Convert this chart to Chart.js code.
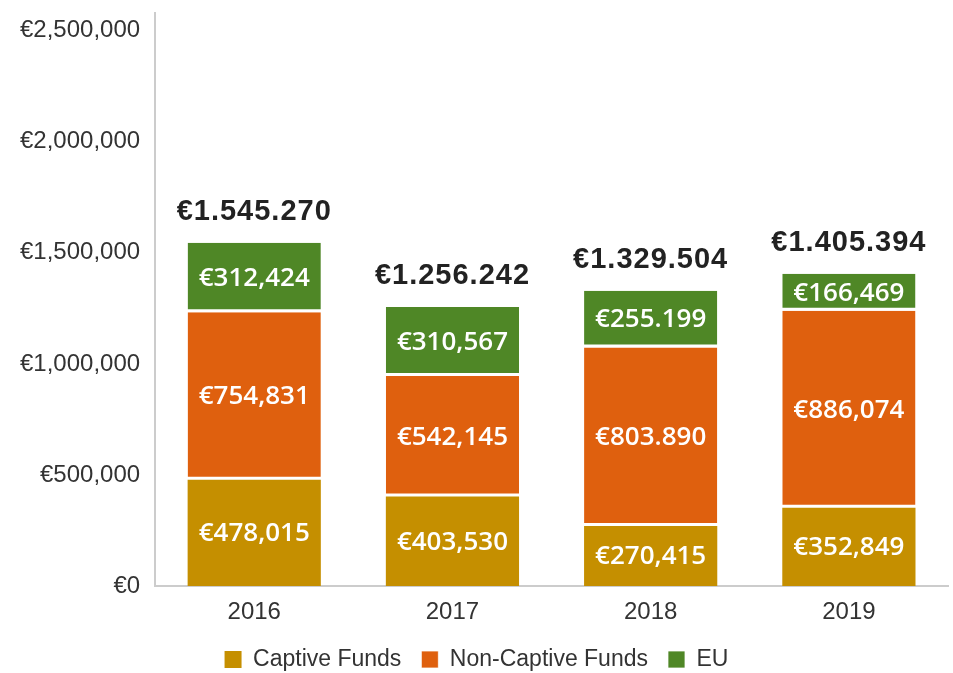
<!DOCTYPE html>
<html>
<head>
<meta charset="utf-8">
<script src="https://cdn.jsdelivr.net/npm/chart.js@4/dist/chart.umd.min.js"></script>
<style>
  html, body { margin: 0; padding: 0; background: #fff; }
  #wrap { width: 953px; height: 673px; }
</style>
</head>
<body>
<div id="wrap"><canvas id="myChart"></canvas></div>
<script>
  // data
  const years = ['2016', '2017', '2018', '2019'];

  const captiveFunds = [478015, 403530, 270415, 352849];
  const nonCaptiveFunds = [754831, 542145, 803890, 886074];
  const euFunds = [312424, 310567, 255199, 166469];

  // label texts as printed on the chart (separators differ per bar)
  const captiveText = ['€478,015', '€403,530', '€270,415', '€352,849'];
  const nonCaptiveText = ['€754,831', '€542,145', '€803.890', '€886,074'];
  const euText = ['€312,424', '€310,567', '€255.199', '€166,469'];

  const totals = [1545270, 1256242, 1329504, 1405394];
  const totalText = ['€1.545.270', '€1.256.242', '€1.329.504', '€1.405.394'];

  const yTicks = [0, 500000, 1000000, 1500000, 2000000, 2500000];

  const segmentTexts = [captiveText, nonCaptiveText, euText];

  // draws the white value labels inside the bars and the totals on top
  const barLabels = {
    id: 'barLabels',
    afterDatasetsDraw(chart) {
      const ctx = chart.ctx;
      ctx.save();
      ctx.textAlign = 'center';
      ctx.textBaseline = 'middle';
      ctx.fillStyle = '#ffffff';
      ctx.font = '600 26px "Open Sans"';
      chart.data.datasets.forEach((ds, d) => {
        const meta = chart.getDatasetMeta(d);
        meta.data.forEach((bar, i) => {
          const y = (bar.y + bar.base) / 2;
          ctx.fillText(segmentTexts[d][i], bar.x, y + 1);
        });
      });

      const yScale = chart.scales.y;
      const meta0 = chart.getDatasetMeta(0);
      ctx.fillStyle = '#222222';
      ctx.font = 'bold 29px "Liberation Sans"';
      ctx.letterSpacing = '1px';
      totals.forEach((t, i) => {
        const x = meta0.data[i].x;
        const y = yScale.getPixelForValue(t) - 31;
        ctx.fillText(totalText[i], x, y);
      });
      ctx.restore();
    }
  };

  const data = {
    labels: years,
    datasets: [{
      label: 'Captive Funds',
      data: captiveFunds,
      backgroundColor: '#C58F00',
      borderColor: '#ffffff',
      borderWidth: 0,
    }, {
      label: 'Non-Captive Funds',
      data: nonCaptiveFunds,
      backgroundColor: '#DF600E',
      borderColor: '#ffffff',
      borderWidth: {top: 0, left: 0, right: 0, bottom: 3},
      borderSkipped: false,
    }, {
      label: 'EU',
      data: euFunds,
      backgroundColor: '#4F8726',
      borderColor: '#ffffff',
      borderWidth: {top: 0, left: 0, right: 0, bottom: 3},
      borderSkipped: false,
    }]
  };

  const config = {
    type: 'bar',
    data: data,
    options: {
      responsive: true,
      maintainAspectRatio: false,
      animation: false,
      categoryPercentage: 0.672,
      barPercentage: 1,
      layout: {
        padding: {left: 5, right: 5, top: 13, bottom: 0}
      },
      plugins: {
        title: { display: false },
        tooltip: { enabled: false },
        legend: {
          display: true,
          position: 'bottom',
          maxHeight: 45,
          labels: {
            boxWidth: 17,
            boxHeight: 17,
            padding: 20,
            color: '#333333',
            font: { family: 'Liberation Sans', size: 23 }
          }
        }
      },
      scales: {
        x: {
          stacked: true,
          grid: { display: false, drawTicks: false },
          border: { display: true, color: '#cccccc', width: 2 },
          afterFit(scale) {
            scale.height = 42;
          },
          ticks: {
            color: '#333333',
            padding: 12,
            font: { family: 'Liberation Sans', size: 24 }
          }
        },
        y: {
          stacked: true,
          min: 0,
          max: 2580000,
          grid: { display: false, drawTicks: false },
          border: { display: true, color: '#cccccc', width: 2 },
          afterBuildTicks(scale) {
            scale.ticks = yTicks.map(v => ({value: v}));
          },
          afterFit(scale) {
            scale.paddingTop = 0;
          },
          ticks: {
            color: '#333333',
            padding: 15,
            font: { family: 'Liberation Sans', size: 24 },
            callback: v => '€' + v.toLocaleString('en-US')
          }
        }
      }
    },
    plugins: [barLabels]
  };

  const myChart = new Chart(
    document.getElementById('myChart'),
    config
  );
</script>
</body>
</html>
